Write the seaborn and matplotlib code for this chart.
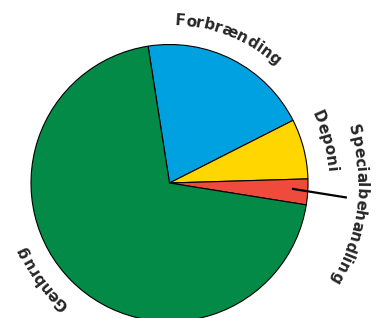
import numpy as np
import matplotlib
matplotlib.use('Agg')
import matplotlib.pyplot as plt
import seaborn as sns
from matplotlib.font_manager import FontProperties
from matplotlib.textpath import TextToPath

# data
labels = ['Forbrænding', 'Deponi', 'Specialbehandling', 'Genbrug']
shares = [20, 7, 3, 70]
colors = ['#00a1e0', '#ffd600', '#ee4b3c', '#038a46']

# label layout (radius of baseline in px, angle offset from wedge middle)
label_radius = [158, 158, 187, 157]
label_offset = [5.0, 0.8, -3.0, -8.0]

sns.set_style('white')
fig = plt.figure(figsize=(3.76, 3.18), dpi=100)
ax = fig.add_axes([0, 0, 1, 1])

R = 138.5
wedges, _ = ax.pie(shares, colors=colors, radius=R, startangle=98.9,
                   counterclock=False,
                   wedgeprops=dict(edgecolor='black', linewidth=0.8))
ax.set_xlim(-169.5, 376 - 169.5)
ax.set_ylim(183 - 318, 183)
ax.set_aspect('equal')
ax.axis('off')

# curved labels, one glyph at a time along the arc
family = 'DejaVu Sans'
fs = 15.3
fp = FontProperties(family=family, weight='bold', size=fs)
ttp = TextToPath()


def width(s):
    if not s:
        return 0.0
    return ttp.get_text_width_height_descent(s, fp, ismath=False)[0]


def arc_text(text, r, mid_deg):
    total = width(text)
    for i, ch in enumerate(text):
        s = width(text[:i]) + width(ch) / 2
        ang = np.radians(mid_deg) + (total / 2 - s) / r
        ax.text(r * np.cos(ang), r * np.sin(ang), ch,
                fontfamily=family, fontweight='bold',
                fontsize=fs * 0.72, rotation=np.degrees(ang) - 90,
                rotation_mode='anchor', ha='center', va='baseline')


for w, lab, r, off in zip(wedges, labels, label_radius, label_offset):
    mid = (w.theta1 + w.theta2) / 2
    arc_text(lab, r, mid + off)

# leader line for the small slice
w = wedges[2]
mid = np.radians((w.theta1 + w.theta2) / 2)
a1, a2 = mid + np.radians(1.0), mid - np.radians(1.0)
ax.plot([0.885 * R * np.cos(a1), 178 * np.cos(a2)],
        [0.885 * R * np.sin(a1), 178 * np.sin(a2)],
        color='black', linewidth=1.6, solid_capstyle='butt')

fig.savefig('out.png', dpi=100)
